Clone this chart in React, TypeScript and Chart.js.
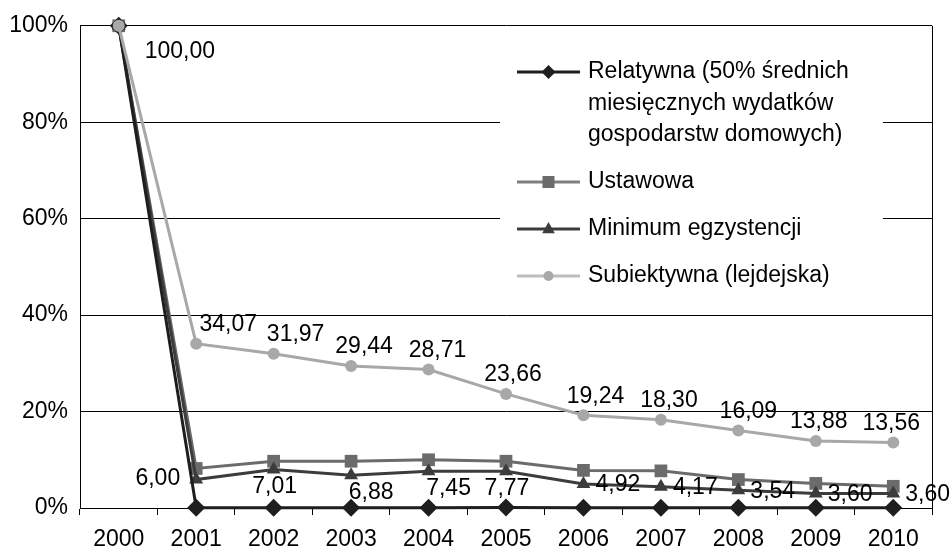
import React, { useEffect, useRef } from "react";
import { Chart, registerables } from "chart.js";

Chart.register(...registerables);

const years = ["2000", "2001", "2002", "2003", "2004", "2005", "2006", "2007", "2008", "2009", "2010"];
const relatywna = [100, 0.06, 0.07, 0.07, 0.07, 0.08, 0.05, 0.04, 0.04, 0.04, 0.04];
const ustawowa = [100, 8.2, 9.7, 9.7, 10.0, 9.7, 7.8, 7.7, 5.9, 5.1, 4.5];
const minimum = [100, 5.9, 8.0, 6.8, 7.6, 7.6, 5.0, 4.4, 3.7, 3.0, 3.0];
const subiektywna = [100, 34.07, 31.97, 29.44, 28.71, 23.66, 19.24, 18.3, 16.09, 13.88, 13.56];
const minimumLabels = [null, 6.0, 7.01, 6.88, 7.45, 7.77, 4.92, 4.17, 3.54, 3.6, 3.6];
const yTicks = [0, 20, 40, 60, 80, 100];

// label nudges relative to the plotted point (layout only)
const minimumLabelPlacement = ["", "left", "below", "belowRight", "belowRight", "below", "right", "right", "right", "right", "right"];
const subLabelNudgeX = [26, 32, 22, 13, 9, 7, 12, 8, 10, 3, -2];

const seriesNames = [
  ["Relatywna (50% średnich", "miesięcznych wydatków", "gospodarstw domowych)"],
  ["Ustawowa"],
  ["Minimum egzystencji"],
  ["Subiektywna (lejdejska)"],
];

const FAMILY = "'Liberation Sans', Arial, sans-serif";
const FONT = "23px " + FAMILY;
const colors = ["#1e1e1e", "#6b6b6b", "#3c3c3c", "#a8a8a8"];
const legendLineColors = ["#1e1e1e", "#7f7f7f", "#3c3c3c", "#bdbdbd"];
const pointStyles = ["rectRot", "rect", "triangle", "circle"];
const pointRadii = [9, 9, 8, 6];

const fmt = (v: number) => v.toFixed(2).replace(".", ",");

function drawMarker(ctx: CanvasRenderingContext2D, style: string, x: number, y: number, r: number, color: string) {
  ctx.save();
  ctx.fillStyle = color;
  ctx.beginPath();
  if (style === "rectRot") {
    ctx.moveTo(x, y - r);
    ctx.lineTo(x + r, y);
    ctx.lineTo(x, y + r);
    ctx.lineTo(x - r, y);
    ctx.closePath();
  } else if (style === "rect") {
    const s = r;
    ctx.rect(x - s, y - s, 2 * s, 2 * s);
  } else if (style === "triangle") {
    ctx.moveTo(x, y - r);
    ctx.lineTo(x + r * 0.9, y + r * 0.6);
    ctx.lineTo(x - r * 0.9, y + r * 0.6);
    ctx.closePath();
  } else {
    ctx.arc(x, y, r, 0, Math.PI * 2);
  }
  ctx.fill();
  ctx.restore();
}

const legendMarkerSizes = [7, 6, 7, 5];

const customPlugin = {
  id: "customDecor",
  afterDatasetsDraw(chart: any) {
    const ctx: CanvasRenderingContext2D = chart.ctx;
    const area = chart.chartArea;
    ctx.save();
    // right border
    ctx.strokeStyle = "#000";
    ctx.lineWidth = 1;
    ctx.beginPath();
    ctx.moveTo(Math.round(area.right) + 0.5, area.top);
    ctx.lineTo(Math.round(area.right) + 0.5, area.bottom);
    ctx.stroke();

    // legend
    ctx.fillStyle = "#fff";
    ctx.fillRect(500, 42, 383, 245);
    ctx.font = FONT;
    ctx.textBaseline = "middle";
    ctx.textAlign = "left";
    let y = 72;
    seriesNames.forEach((lines, i) => {
      ctx.strokeStyle = legendLineColors[i];
      ctx.lineWidth = 3;
      ctx.beginPath();
      ctx.moveTo(517, y);
      ctx.lineTo(580, y);
      ctx.stroke();
      drawMarker(ctx, pointStyles[i], 548.5, y, legendMarkerSizes[i], colors[i]);
      ctx.fillStyle = "#000";
      lines.forEach((t, j) => {
        ctx.fillText(t, 588, y + j * 31.5);
      });
      y += (lines.length - 1) * 31.5 + 47;
    });

    // data labels
    ctx.fillStyle = "#000";
    ctx.font = FONT;
    const subMeta = chart.getDatasetMeta(3);
    subiektywna.forEach((v, i) => {
      const p = subMeta.data[i];
      if (!p) return;
      if (i === 0) {
        ctx.textAlign = "left";
        ctx.fillText(fmt(v), p.x + subLabelNudgeX[i], p.y + 26);
      } else {
        ctx.textAlign = "center";
        ctx.fillText(fmt(v), p.x + subLabelNudgeX[i], p.y - 19);
      }
    });
    const minMeta = chart.getDatasetMeta(2);
    minimumLabels.forEach((v, i) => {
      if (v === null) return;
      const p = minMeta.data[i];
      const place = minimumLabelPlacement[i];
      if (place === "left") {
        ctx.textAlign = "right";
        ctx.fillText(fmt(v), p.x - 16, p.y - 1);
      } else if (place === "below") {
        ctx.textAlign = "center";
        ctx.fillText(fmt(v), p.x + 1, p.y + 17);
      } else if (place === "belowRight") {
        ctx.textAlign = "center";
        ctx.fillText(fmt(v), p.x + 20, p.y + 17);
      } else {
        ctx.textAlign = "left";
        ctx.fillText(fmt(v), p.x + 12, p.y + 1);
      }
    });
    ctx.restore();
  },
};

export default function App() {
  const ref = useRef<HTMLCanvasElement | null>(null);
  useEffect(() => {
    document.body.style.margin = "0";
    const canvas = ref.current;
    if (!canvas) return;
    const series = [relatywna, ustawowa, minimum, subiektywna];
    const orders = [1, 3, 2, 0];
    const chart = new Chart(canvas, {
      type: "line",
      data: {
        labels: years,
        datasets: series.map((d, i) => ({
          label: seriesNames[i].join(" "),
          data: d,
          borderColor: colors[i],
          backgroundColor: colors[i],
          pointBackgroundColor: colors[i],
          pointBorderColor: colors[i],
          pointBorderWidth: 0,
          pointStyle: pointStyles[i] as any,
          pointRadius: pointRadii[i],
          borderWidth: 3,
          tension: 0,
          clip: false as any,
          order: orders[i],
        })),
      },
      options: {
        animation: false,
        responsive: true,
        maintainAspectRatio: false,
        layout: { padding: { top: 18, right: 19, left: 0, bottom: 0 } },
        plugins: { legend: { display: false }, tooltip: { enabled: false } },
        scales: {
          x: {
            offset: true,
            grid: { offset: true, drawOnChartArea: false, drawTicks: true, tickLength: 7, color: "#000", lineWidth: 1 },
            border: { color: "#000", width: 1 },
            ticks: { color: "#000", font: { family: FAMILY, size: 23 }, padding: 11, maxRotation: 0, autoSkip: false },
            afterFit: (scale: any) => {
              scale.height = 48;
            },
          },
          y: {
            min: 0,
            max: 100,
            afterBuildTicks: (scale: any) => {
              scale.ticks = yTicks.map((v) => ({ value: v }));
            },
            grid: { color: "#000", lineWidth: 1, drawTicks: false },
            border: { color: "#000", width: 1 },
            ticks: {
              color: "#000",
              font: { family: FAMILY, size: 23 },
              padding: 12,
              callback: (v: any) => v + "%",
            },
            afterFit: (scale: any) => {
              scale.width = 80;
            },
          },
        },
      },
      plugins: [customPlugin],
    });
    return () => chart.destroy();
  }, []);
  return (
    <div style={{ position: "fixed", left: 0, top: 0, width: 951, height: 556 }}>
      <canvas ref={ref} />
    </div>
  );
}
